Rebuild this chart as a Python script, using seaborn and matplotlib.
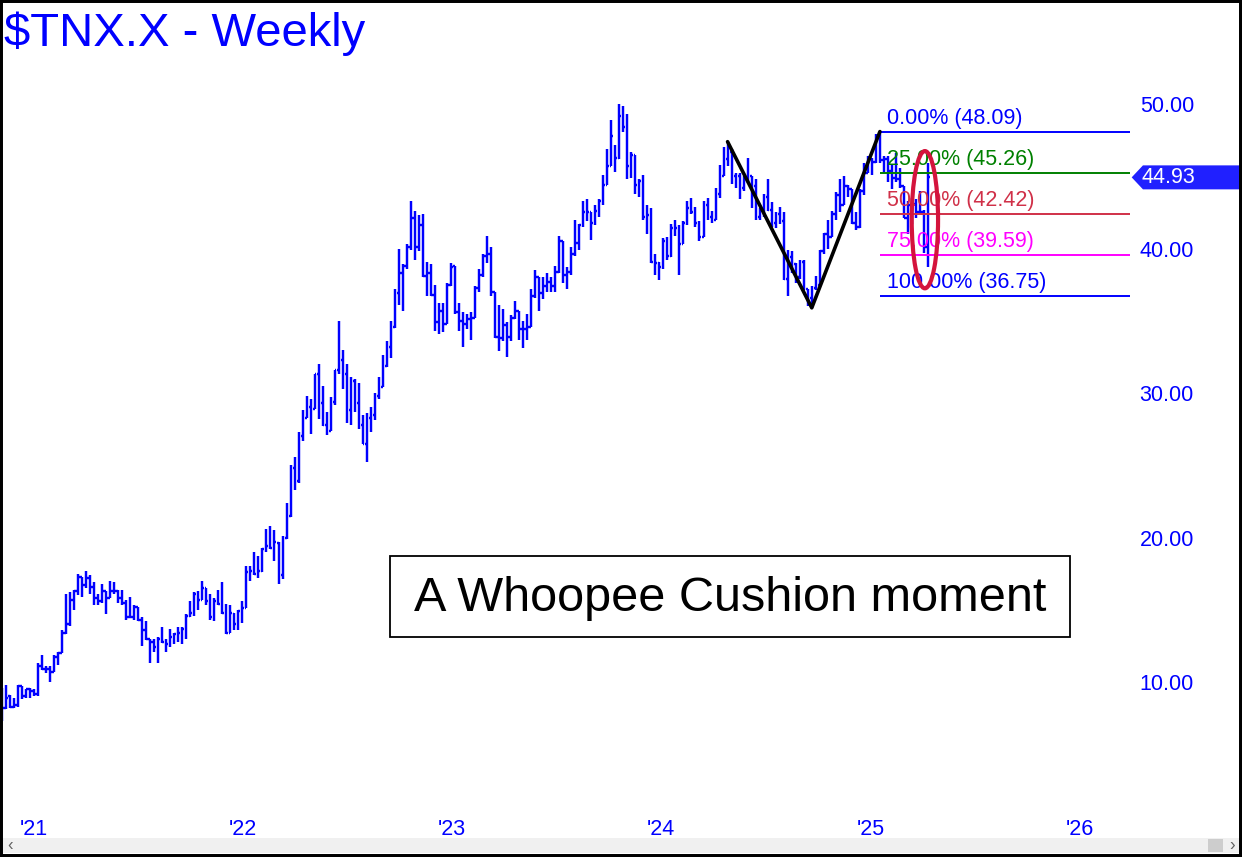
import numpy as np
import pandas as pd
import matplotlib.pyplot as plt
import matplotlib.dates as mdates
from matplotlib.patches import Ellipse, Rectangle, Polygon
import seaborn as sns

# Style first, fonts after (set_style resets font.family)
sns.set_style("white")
plt.rcParams['font.family'] = ['Liberation Sans', 'DejaVu Sans']

# Weekly bars of $TNX.X (10-yr yield x10), first week ending 2020-11-06
first_week = '2020-11-06'

opens = [
    8.7, 8.2, 9.0, 8.3, 8.4, 9.7, 9.0, 9.5, 9.4,
    # 2021
    9.2, 11.1, 10.9, 10.9, 10.7, 11.7, 12.0, 13.4, 14.0, 15.7, 16.3, 17.3, 16.7,
    17.2, 16.6, 15.8, 15.6, 16.3, 15.8, 16.3, 16.3, 15.8, 15.5, 14.5, 14.5, 15.2,
    14.3, 13.6, 13.0, 12.8, 12.4, 13.0, 12.8, 12.6, 13.1, 13.3, 13.4, 13.7, 14.6,
    14.8, 16.1, 15.7, 16.5, 15.6, 14.5, 15.6, 15.4, 14.8, 13.4, 14.7, 14.0, 14.9,
    # 2022
    15.1, 17.6, 17.7, 17.5, 17.7, 19.2, 19.4, 19.3, 19.6, 17.4, 20.0, 21.5, 24.8,
    23.9, 27.0, 28.3, 29.0, 28.9, 31.3, 29.3, 27.8, 27.4, 29.4, 31.6, 32.3, 31.3,
    28.8, 30.8, 29.3, 27.8, 26.5, 28.3, 28.5, 29.8, 30.4, 31.9, 33.2, 34.6, 36.9,
    38.3, 38.8, 40.1, 42.1, 40.1, 41.6, 38.1, 38.3, 36.8, 34.9, 35.7, 34.8, 37.5,
    # 2023
    38.8, 35.6, 35.0, 34.8, 35.1, 35.2, 37.3, 38.2, 39.5, 39.6, 37.0, 33.9, 33.8,
    34.7, 33.9, 35.2, 35.7, 34.4, 34.4, 34.6, 36.7, 38.0, 36.9, 37.4, 37.7, 37.4,
    38.4, 40.5, 38.2, 38.4, 39.6, 40.4, 41.6, 42.5, 42.5, 41.8, 42.6, 43.3, 44.4,
    45.7, 46.5, 46.3, 49.2, 48.4, 45.7, 46.5, 44.4, 44.7, 42.2, 42.3, 39.1, 39.0,
    # 2024
    38.7, 40.5, 39.5, 41.4, 41.4, 40.3, 41.8, 42.8, 42.5, 41.8, 40.8, 43.0, 42.2,
    42.0, 43.8, 45.0, 46.2, 46.7, 45.0, 45.0, 44.2, 44.7, 45.0, 44.3, 42.2, 42.6,
    43.6, 42.7, 41.8, 42.4, 41.9, 37.9, 39.4, 38.9, 38.0, 39.1, 37.2, 36.6, 37.3,
    37.5, 39.8, 41.0, 40.8, 42.4, 43.7, 43.0, 44.3, 44.1, 41.8, 41.5, 44.0, 45.2,
    # 2025
    46.2, 46.0, 47.7, 46.1, 46.2, 45.4, 44.9, 44.8, 44.3, 42.1, 43.0, 43.1, 42.5,
    42.5, 40.1,
]

highs = [
    9.6, 9.8, 9.1, 8.9, 9.8, 9.7, 9.5, 9.6, 9.5,
    11.3, 11.9, 11.1, 11.1, 11.9, 12.1, 13.6, 16.1, 16.2, 16.4, 17.5, 17.3, 17.7,
    17.4, 16.9, 16.1, 16.8, 16.3, 17.0, 16.9, 16.4, 16.4, 15.7, 15.9, 15.3, 15.2,
    14.5, 14.2, 13.0, 13.0, 13.1, 13.8, 13.0, 13.7, 13.4, 13.8, 13.8, 14.7, 15.6,
    16.2, 16.3, 17.0, 16.5, 16.1, 15.8, 16.4, 16.9, 15.4, 15.3, 14.8, 15.0, 15.6,
    18.0, 18.0, 19.0, 18.7, 19.3, 20.6, 20.8, 20.5, 19.7, 20.1, 22.4, 25.0, 25.6,
    27.3, 28.8, 29.8, 29.6, 31.3, 32.0, 30.5, 28.7, 29.7, 31.6, 35.0, 33.0, 32.0,
    31.1, 31.0, 30.7, 28.5, 28.6, 29.0, 30.0, 31.1, 32.6, 33.6, 35.0, 37.2, 40.0,
    38.9, 40.3, 43.3, 42.6, 42.3, 42.4, 39.1, 38.9, 37.5, 36.2, 36.2, 37.6, 39.0,
    38.8, 36.2, 35.6, 35.5, 35.6, 37.4, 38.6, 39.6, 40.9, 40.1, 37.0, 36.1, 35.8,
    34.9, 35.4, 36.4, 35.7, 35.0, 35.5, 37.2, 38.5, 38.0, 38.0, 38.3, 38.0, 38.8,
    40.9, 40.5, 38.7, 40.1, 42.0, 41.7, 43.3, 43.4, 42.5, 43.0, 43.4, 45.1, 46.9,
    48.9, 47.2, 50.0, 49.9, 49.3, 46.7, 46.5, 44.8, 45.1, 43.0, 42.8, 39.6, 39.1,
    40.7, 40.8, 41.7, 42.0, 41.6, 41.9, 43.3, 43.5, 42.9, 41.9, 43.3, 43.5, 42.6,
    44.2, 45.8, 47.0, 47.4, 46.9, 45.2, 45.2, 45.0, 46.3, 45.0, 44.8, 42.8, 43.8,
    44.8, 43.2, 42.5, 42.9, 42.5, 39.9, 39.8, 39.0, 39.2, 39.2, 37.2, 37.4, 38.1,
    39.9, 41.1, 42.0, 42.6, 43.9, 44.8, 45.0, 44.4, 44.1, 42.5, 44.1, 45.9, 46.4,
    46.3, 47.9, 48.1, 46.4, 46.4, 45.8, 46.6, 45.6, 44.3, 43.3, 43.5, 43.4, 44.0,
    42.7, 45.9,
]

lows = [
    7.3, 8.1, 8.2, 8.2, 8.3, 8.8, 8.9, 8.9, 9.0,
    9.0, 10.8, 10.6, 10.0, 10.7, 11.2, 12.0, 13.3, 13.9, 15.0, 16.0, 15.9, 16.5,
    16.1, 15.3, 15.3, 15.5, 14.7, 15.8, 16.1, 15.5, 15.3, 14.3, 14.4, 14.3, 14.2,
    12.5, 12.9, 11.3, 12.1, 11.3, 12.7, 12.1, 12.4, 12.6, 12.8, 12.6, 13.0, 14.5,
    14.6, 15.0, 15.7, 15.3, 14.3, 14.2, 15.3, 14.7, 13.3, 13.4, 13.6, 13.6, 14.1,
    15.1, 17.0, 17.4, 17.2, 17.6, 19.0, 19.2, 18.4, 16.8, 17.1, 19.9, 21.4, 23.3,
    23.8, 26.7, 28.3, 27.2, 28.9, 28.2, 27.7, 27.1, 27.4, 29.2, 31.3, 30.3, 27.9,
    27.8, 28.7, 27.5, 26.5, 25.2, 27.3, 28.1, 29.6, 30.4, 31.8, 32.4, 34.5, 36.1,
    35.7, 38.6, 39.9, 39.2, 39.8, 38.0, 36.7, 36.7, 34.3, 34.1, 34.2, 34.8, 37.4,
    35.5, 34.3, 33.2, 34.4, 33.7, 35.2, 37.0, 38.0, 39.0, 36.7, 33.8, 32.9, 33.6,
    32.5, 33.6, 35.1, 33.7, 33.1, 33.7, 34.6, 36.6, 35.7, 36.5, 37.0, 37.0, 37.0,
    38.3, 37.6, 37.2, 38.2, 39.5, 39.9, 41.5, 41.9, 40.6, 41.6, 42.2, 43.0, 44.4,
    45.7, 45.3, 46.2, 48.1, 44.8, 44.9, 43.8, 43.6, 42.0, 41.0, 39.0, 38.2, 37.8,
    38.6, 39.2, 39.4, 40.9, 38.2, 40.3, 41.6, 42.4, 41.5, 40.5, 40.8, 42.0, 41.8,
    42.0, 43.5, 45.0, 45.7, 44.5, 44.2, 43.4, 44.0, 44.6, 42.8, 42.0, 42.0, 42.2,
    42.6, 41.5, 41.4, 41.7, 37.8, 36.7, 38.3, 37.6, 37.9, 37.1, 36.0, 35.9, 37.1,
    37.4, 39.6, 40.0, 40.8, 42.0, 42.5, 43.0, 43.6, 41.7, 41.3, 41.4, 43.7, 45.2,
    45.1, 45.9, 45.9, 45.3, 44.6, 44.1, 44.6, 44.2, 42.1, 41.0, 41.7, 42.1, 42.4,
    39.7, 38.7,
]

closes = [
    8.2, 8.9, 8.3, 8.4, 9.7, 9.0, 9.5, 9.4, 9.2,
    11.1, 10.9, 10.9, 10.7, 11.7, 12.0, 13.4, 14.0, 15.7, 16.3, 17.3, 16.7, 17.2,
    16.6, 15.8, 15.6, 16.3, 15.8, 16.3, 16.3, 15.8, 15.5, 14.5, 14.5, 15.2, 14.3,
    13.6, 13.0, 12.8, 12.4, 13.0, 12.8, 12.6, 13.1, 13.3, 13.4, 13.7, 14.6, 14.8,
    16.1, 15.7, 16.5, 15.6, 14.5, 15.6, 15.4, 14.8, 13.4, 14.8, 14.0, 14.9, 15.1,
    17.6, 17.7, 17.5, 17.7, 19.2, 19.4, 19.3, 19.7, 17.4, 20.0, 21.5, 24.8, 23.9,
    27.0, 28.3, 29.0, 28.9, 31.3, 29.3, 27.8, 27.4, 29.4, 31.6, 32.3, 31.3, 28.8,
    30.8, 29.3, 27.8, 26.5, 28.3, 28.5, 29.8, 30.4, 31.9, 33.2, 34.5, 36.9, 38.3,
    38.8, 40.1, 42.1, 40.1, 41.6, 38.1, 38.3, 36.8, 34.9, 35.7, 34.8, 37.5, 38.7,
    35.6, 35.0, 34.8, 35.1, 35.2, 37.3, 38.2, 39.5, 39.6, 37.0, 33.9, 33.8, 34.7,
    33.9, 35.2, 35.7, 34.4, 34.4, 34.6, 36.7, 38.0, 36.9, 37.4, 37.7, 37.4, 38.4,
    40.5, 38.2, 38.4, 39.6, 40.4, 41.6, 42.5, 42.5, 41.8, 42.6, 43.3, 44.4, 45.7,
    47.8, 46.3, 49.2, 48.4, 45.7, 46.5, 44.4, 44.7, 42.2, 42.3, 39.1, 39.0, 38.7,
    40.5, 39.5, 41.4, 41.4, 40.3, 41.8, 42.8, 42.5, 41.8, 40.8, 43.0, 42.2, 42.0,
    43.8, 45.0, 46.2, 46.7, 45.0, 45.0, 44.2, 44.7, 45.0, 44.3, 42.2, 42.6, 43.6,
    42.7, 41.8, 42.4, 41.9, 37.9, 39.4, 38.9, 38.0, 39.1, 37.2, 36.6, 37.3, 37.5,
    39.8, 41.0, 40.8, 42.4, 43.7, 43.0, 44.3, 44.1, 41.8, 41.5, 44.0, 45.2, 46.2,
    46.0, 47.7, 46.1, 46.2, 45.4, 44.9, 44.8, 44.3, 42.1, 43.0, 43.1, 42.5, 42.5,
    40.1, 44.93,
]

y_ticks = [10, 20, 30, 40, 50]
y_tick_labels = ['10.00', '20.00', '30.00', '40.00', '50.00']
year_ticks = ['2021-01-01', '2022-01-01', '2023-01-01', '2024-01-01', '2025-01-01', '2026-01-01']
year_labels = ["'21", "'22", "'23", "'24", "'25", "'26"]

# Fibonacci retracement of the Sep-2024 -> Jan-2025 rally
fib_high, fib_low = 48.09, 36.75
fib_pcts = [0.0, 0.25, 0.50, 0.75, 1.0]
fib_colors = ['#0000ff', '#008000', '#d03048', '#ff00ff', '#0000ff']

note_text = 'A Whoopee Cushion moment'
title_text = r'\$TNX.X - Weekly'

BLUE = '#0000ff'


def main():
    assert len(opens) == len(highs) == len(lows) == len(closes)
    dates = pd.date_range(first_week, periods=len(closes), freq='W-FRI')
    df = pd.DataFrame({'open': opens, 'high': highs, 'low': lows, 'close': closes}, index=dates)

    W, H = 1242, 857
    fig = plt.figure(figsize=(W / 100, H / 100), dpi=100)
    fig.patch.set_facecolor('white')
    ax = fig.add_axes([3 / W, 1 - 838 / H, 1127 / W, 835 / H])

    # axis ranges
    x_left = mdates.date2num(pd.Timestamp('2021-01-01') - pd.Timedelta(days=54))
    x_right = mdates.date2num(pd.Timestamp('2021-01-01') + pd.Timedelta(days=1913.6))
    ax.set_xlim(x_left, x_right)
    ax.set_ylim(-0.8, 57.0)

    # OHLC bars
    xd = mdates.date2num(df.index)
    bar_kw = dict(color=BLUE, lw=1.75, capstyle='butt')
    ax.vlines(xd, df['low'], df['high'], **bar_kw)
    ax.hlines(df['open'], xd - 3.0, xd, **bar_kw)
    ax.hlines(df['close'], xd, xd + 3.0, **bar_kw)

    # swing pivots for the black V
    p1 = df.loc['2024-03-01':'2024-06-01', 'high'].idxmax()
    p2 = df.loc['2024-08-15':'2024-10-15', 'low'].idxmin()
    p3 = df.loc['2024-12-01':'2025-02-01', 'high'].idxmax()
    piv = pd.DataFrame({
        'x': mdates.date2num(pd.DatetimeIndex([p1, p2, p3])),
        'y': [df.loc[p1, 'high'], df.loc[p2, 'low'], df.loc[p3, 'high']],
    })
    sns.lineplot(data=piv, x='x', y='y', color='black', lw=2.6, sort=False,
                 estimator=None, ax=ax, zorder=4)

    # fib levels
    fib_x = mdates.date2num(p3)
    for pct, col in zip(fib_pcts, fib_colors):
        lvl = fib_high - pct * (fib_high - fib_low)
        ax.hlines(lvl, fib_x, x_right, color=col, lw=1.4, zorder=3)
        ax.annotate(f'{pct * 100:.2f}% ({lvl + 1e-9:.2f})', (fib_x, lvl),
                    xytext=(5, 5.5), textcoords='offset points',
                    color=col, fontsize=15.5, va='baseline', ha='left', zorder=3)

    # red ellipse round the last bars
    last_x = xd[-1]
    ax.add_patch(Ellipse((last_x - 5.5, 42.0), width=46, height=9.5, fill=False,
                         ec='#d4143c', lw=3, zorder=6))

    # note box
    ax.add_patch(Rectangle((0.3434, 0.2407), 0.6034, 0.0970, transform=ax.transAxes,
                           fc='white', ec='black', lw=1.3, zorder=5))
    ax.text(0.6451, 0.2865, note_text, transform=ax.transAxes, ha='center',
            va='center', fontsize=35, color='black', zorder=6)

    # axes / ticks
    for s in ax.spines.values():
        s.set_visible(False)
    ax.grid(False)
    ax.set_xlabel('')
    ax.set_ylabel('')
    ax.yaxis.tick_right()
    ax.set_yticks(y_ticks)
    ax.set_yticklabels(y_tick_labels)
    ax.tick_params(axis='y', length=0, pad=7, labelsize=15.5, labelcolor=BLUE)
    ax.set_xticks(mdates.date2num(pd.to_datetime(year_ticks)))
    ax.set_xticklabels(year_labels)
    ax.tick_params(axis='x', length=0, pad=-14, labelsize=15.5, labelcolor=BLUE)
    for lbl in ax.get_xticklabels():
        lbl.set_fontfamily(['Liberation Sans Narrow', 'Liberation Sans', 'DejaVu Sans'])

    # last-price tag
    yt = ax.get_yaxis_transform()
    last = closes[-1]
    hh = 12 / 14.45
    ax.add_patch(Polygon([(1.0015, last), (1.0115, last + hh), (1.1, last + hh),
                          (1.1, last - hh), (1.0115, last - hh)], closed=True,
                         transform=yt, clip_on=False, fc='#2020ff', ec='none'))
    ax.text(1.0102, last, f'{last:.2f}', transform=yt, color='white', fontsize=15.5,
            va='center', ha='left', clip_on=False)

    # title
    fig.text(4 / W, 1 - 46 / H, title_text, fontsize=34, color=BLUE,
             va='baseline', ha='left')

    # scrollbar strip + frame
    fig.add_artist(Rectangle((3 / W, 1 - 853 / H), 1236 / W, 15 / H,
                             transform=fig.transFigure, fc='#f0f0f0', ec='none'))
    fig.add_artist(Rectangle((1208 / W, 1 - 852 / H), 15 / W, 13 / H,
                             transform=fig.transFigure, fc='#cdcdcd', ec='none'))
    fig.text(10 / W, 1 - 845.5 / H, '‹', fontsize=12, color='#606060', ha='center', va='center')
    fig.text(1232 / W, 1 - 845.5 / H, '›', fontsize=12, color='#606060', ha='center', va='center')
    fig.add_artist(Rectangle((0, 0), 1, 1, transform=fig.transFigure, fill=False,
                             ec='black', lw=4.3))

    fig.savefig('out.png', dpi=100)


if __name__ == "__main__":
    main()
